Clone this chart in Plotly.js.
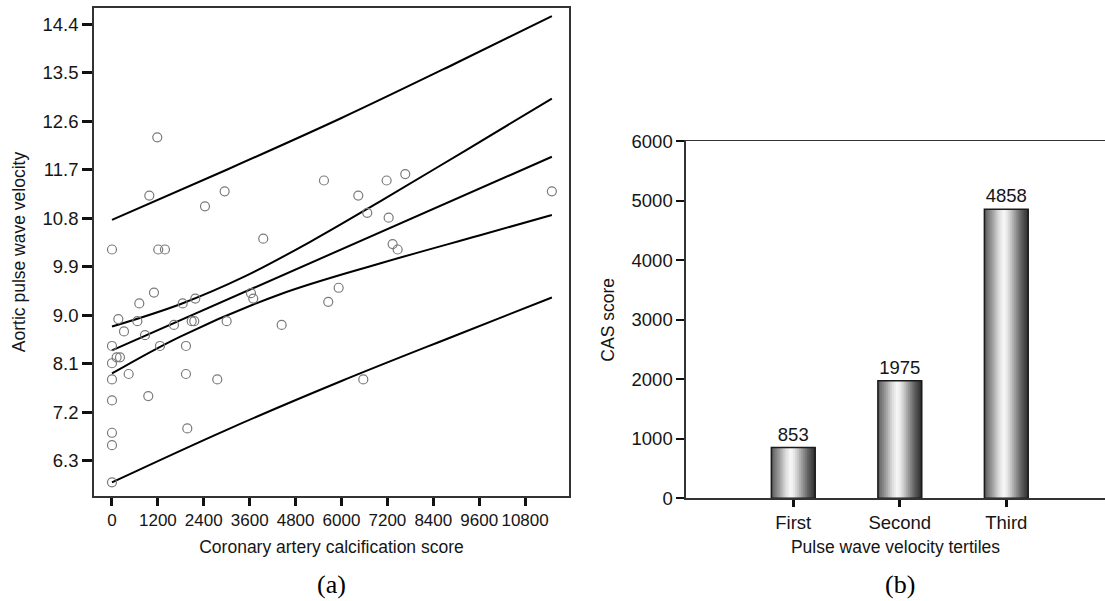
<!DOCTYPE html>
<html>
<head>
<meta charset="utf-8">
<script src="https://cdn.plot.ly/plotly-3.0.1.min.js"></script>
<style>
  html, body { margin: 0; padding: 0; background: #ffffff; }
  #chart { width: 1105px; height: 601px; }
</style>
</head>
<body>
<div id="chart"></div>
<script>
// ---------- Panel (a): scatter data ----------
const casScore = [976, 2945, 2431, 5542, 7180, 7667, 6439, 6674, 7233, 11500,
  0, 1210, 1385, 3955, 7337, 7468, 1098, 714, 1848, 2178,
  3634, 3694, 5926, 5654, 166, 663, 2083, 2151, 2998, 4436,
  314, 863, 1621, 0, 1255, 1934, 122, 209, 0, 436,
  0, 1934, 2753, 6570, 949, 0, 0, 1969, 0, 0, 1184];
const pwv = [11.22, 11.30, 11.02, 11.50, 11.50, 11.62, 11.22, 10.90, 10.81, 11.30,
  10.22, 10.22, 10.22, 10.42, 10.32, 10.22, 9.42, 9.22, 9.22, 9.31,
  9.41, 9.31, 9.51, 9.25, 8.93, 8.89, 8.89, 8.89, 8.89, 8.82,
  8.70, 8.63, 8.82, 8.43, 8.43, 8.43, 8.22, 8.22, 8.11, 7.91,
  7.81, 7.91, 7.81, 7.81, 7.50, 7.42, 6.82, 6.90, 6.59, 5.90, 12.30];

// regression line
const fitX = [0, 11500];
const fitY = [8.35, 11.94];
// 95% CI of the mean (upper / lower curves)
const ciUpperX = [0, 1800, 3500, 5250, 7000, 9250, 11500];
const ciUpperY = [8.79, 9.21, 9.73, 10.39, 11.11, 12.06, 13.02];
const ciLowerX = [0, 1800, 4400, 7000, 9600, 11500];
const ciLowerY = [7.92, 8.61, 9.39, 9.96, 10.48, 10.86];
// 95% prediction interval
const piX = [0, 3000, 6000, 9000, 11500];
const piUpperY = [10.77, 11.70, 12.66, 13.68, 14.55];
const piLowerY = [5.90, 6.875, 7.78, 8.63, 9.33];

// ---------- Panel (b): bar data ----------
const tertiles = ['First', 'Second', 'Third'];
const casMeans = [853, 1975, 4858];

// ---------- styling ----------
const FONT = 'Liberation Sans, Arial, Helvetica, sans-serif';
const SERIF = 'Liberation Serif, Times New Roman, serif';
const INK = '#151515';
const TICK = 18.5;

const lineStyle = { color: '#000000', width: 2 };
const traces = [];

function curve(x, y) {
  return { type: 'scatter', mode: 'lines', x: x, y: y, xaxis: 'x', yaxis: 'y',
    line: Object.assign({ shape: 'spline', smoothing: 1 }, lineStyle),
    hoverinfo: 'skip', showlegend: false };
}
traces.push(curve(piX, piUpperY));
traces.push(curve(piX, piLowerY));
traces.push(curve(ciUpperX, ciUpperY));
traces.push(curve(ciLowerX, ciLowerY));
traces.push(curve(fitX, fitY));

traces.push({
  type: 'scatter', mode: 'markers', x: casScore, y: pwv, xaxis: 'x', yaxis: 'y',
  marker: { symbol: 'circle-open', size: 9, color: '#7a7a7a', line: { width: 1.2, color: '#7a7a7a' } },
  showlegend: false
});

// cylinder-like shading of the bars: overlapping vertical slices
const shade = [
  [0.00, 90], [0.08, 120], [0.20, 165], [0.32, 216], [0.43, 246], [0.50, 238],
  [0.60, 200], [0.72, 145], [0.84, 95], [0.94, 62], [1.00, 48]
];
function shadeAt(t) {
  for (let k = 1; k < shade.length; k++) {
    if (t <= shade[k][0]) {
      const a = shade[k - 1], b = shade[k];
      const f = (t - a[0]) / (b[0] - a[0]);
      const v = Math.round(a[1] + f * (b[1] - a[1]));
      return 'rgb(' + v + ',' + v + ',' + v + ')';
    }
  }
  const v = shade[shade.length - 1][1];
  return 'rgb(' + v + ',' + v + ',' + v + ')';
}
const BW = 0.41, N = 22;
for (let i = 0; i < N; i++) {
  traces.push({
    type: 'bar', x: tertiles, y: casMeans, xaxis: 'x2', yaxis: 'y2',
    width: BW / N + 0.006, offset: -BW / 2 + i * BW / N,
    marker: { color: shadeAt((i + 0.5) / N), line: { width: 0 } },
    hoverinfo: 'skip', showlegend: false
  });
}
traces.push({
  type: 'bar', x: tertiles, y: casMeans, xaxis: 'x2', yaxis: 'y2',
  width: BW, offset: -BW / 2,
  marker: { color: 'rgba(0,0,0,0)', line: { width: 1.6, color: '#1a1a1a' } },
  text: casMeans.map(String), textposition: 'outside', cliponaxis: false,
  textfont: { family: FONT, size: TICK, color: INK },
  showlegend: false
});

const titleFont = { family: FONT, size: 17.5, color: INK };
const tickFont = { family: FONT, size: TICK, color: INK };

const layout = {
  width: 1105, height: 601,
  margin: { l: 0, r: 0, t: 0, b: 0 },
  paper_bgcolor: '#ffffff', plot_bgcolor: '#ffffff',
  font: { family: FONT, size: TICK, color: INK },
  showlegend: false,
  barmode: 'overlay',
  xaxis: {
    domain: [94 / 1105, 569 / 1105], anchor: 'y',
    range: [-470, 11948], tick0: 0, dtick: 1200, tickformat: 'd', tickangle: 0,
    showgrid: false, zeroline: false,
    showline: true, mirror: true, linecolor: '#333333', linewidth: 1.8,
    ticks: 'outside', ticklen: 8, tickwidth: 3, tickcolor: '#111111',
    tickfont: { family: FONT, size: 17, color: INK },
    title: { text: 'Coronary artery calcification score', font: titleFont, standoff: 11 }
  },
  yaxis: {
    domain: [(601 - 496) / 601, (601 - 8) / 601], anchor: 'x',
    range: [5.647, 14.70], tick0: 6.3, dtick: 0.9, tickformat: '.1f',
    showgrid: false, zeroline: false,
    showline: true, mirror: true, linecolor: '#333333', linewidth: 1.8,
    ticks: 'outside', ticklen: 10, tickwidth: 3, tickcolor: '#111111',
    tickfont: tickFont,
    title: { text: 'Aortic pulse wave velocity', font: titleFont, standoff: 12 }
  },
  xaxis2: {
    domain: [686 / 1105, 1], anchor: 'y2', type: 'category',
    range: [-1.007, 2.927], tickangle: 0,
    showgrid: false, zeroline: false,
    showline: true, mirror: true, linecolor: '#333333', linewidth: 1.6,
    ticks: 'outside', ticklen: 7, tickwidth: 3, tickcolor: '#111111',
    tickfont: tickFont,
    title: { text: 'Pulse wave velocity tertiles', font: titleFont, standoff: 8 }
  },
  yaxis2: {
    domain: [(601 - 498.3) / 601, (601 - 141.3) / 601], anchor: 'x2',
    range: [0, 6000], dtick: 1000,
    showgrid: false, zeroline: false,
    showline: true, mirror: false, linecolor: '#333333', linewidth: 1.6,
    ticks: 'outside', ticklen: 8, tickwidth: 2, tickcolor: '#111111',
    tickfont: tickFont,
    title: { text: 'CAS score', font: titleFont, standoff: 12 }
  },
  annotations: [
    { text: '(a)', xref: 'paper', yref: 'paper', x: 331.5 / 1105, y: (601 - 584) / 601,
      xanchor: 'center', yanchor: 'middle', showarrow: false,
      font: { family: SERIF, size: 26, color: '#000000' } },
    { text: '(b)', xref: 'paper', yref: 'paper', x: 900 / 1105, y: (601 - 584) / 601,
      xanchor: 'center', yanchor: 'middle', showarrow: false,
      font: { family: SERIF, size: 26, color: '#000000' } }
  ]
};

Plotly.newPlot('chart', traces, layout, { displayModeBar: false, staticPlot: true });
</script>
</body>
</html>
